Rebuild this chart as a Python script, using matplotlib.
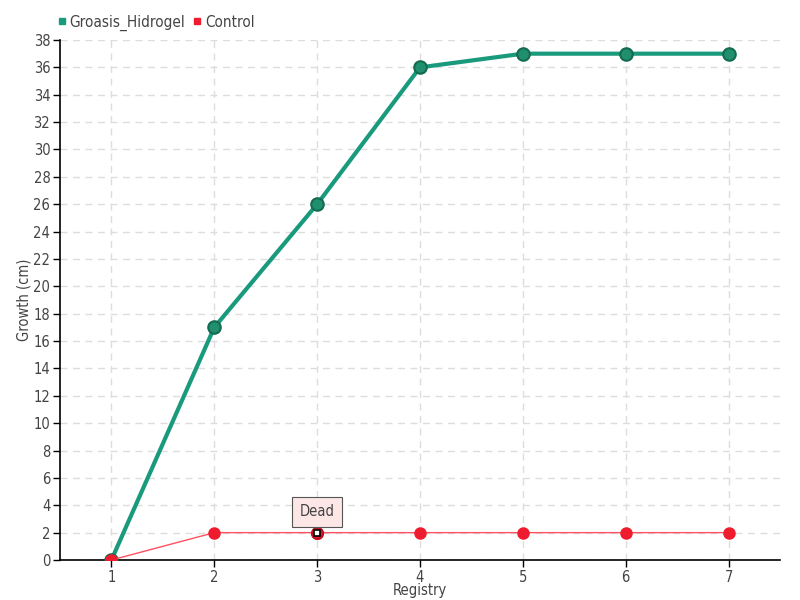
import matplotlib
matplotlib.use("Agg")
import matplotlib.pyplot as plt
from matplotlib.lines import Line2D

registry = [1, 2, 3, 4, 5, 6, 7]
groasis_hidrogel = [0, 17, 26, 36, 37, 37, 37]
control = [0, 2, 2, 2, 2, 2, 2]
y_ticks = list(range(0, 39, 2))
dead_index = 2
dead_label = "Dead"

plt.rcParams['font.family'] = ["DejaVu Sans"]
plt.rcParams['font.stretch'] = 'condensed'

green = "#1a9a7c"
green_edge = "#136b50"
red = "#ee1c2e"
text_col = "#444444"

fig = plt.figure(figsize=(8, 6), dpi=100)
ax = fig.add_axes([60/800, 40/600, 720/800, 520/600])

ax.plot(registry, groasis_hidrogel, color=green, lw=3, marker='o', ms=9,
        mfc="#1f8f6e", mec=green_edge, mew=1.5, zorder=4)
ax.plot(registry, control, color="#ff5060", lw=1, marker='o', ms=8,
        mfc=red, mec=red, zorder=5)
ax.plot([registry[dead_index]], [control[dead_index]], marker='s', ms=4,
        mfc='white', mec='black', mew=1.2, zorder=7)
ax.plot([registry[dead_index]], [control[dead_index]], marker='o', ms=8,
        mfc='none', mec="#c01020", mew=1.5, zorder=6)

ax.annotate(dead_label, xy=(registry[dead_index], control[dead_index]),
            xytext=(0, 15), textcoords='offset points', ha='center', va='center',
            fontsize=10.5, color=text_col,
            bbox=dict(boxstyle='square,pad=0.5', fc='#fde6e6', ec='#555555', lw=0.8),
            arrowprops=dict(arrowstyle='-', color='#555555', lw=0.8, shrinkA=0, shrinkB=3),
            zorder=8)

ax.set_xlim(0.5, 7.5)
ax.set_ylim(0, 38)
ax.set_xticks(registry)
ax.set_yticks(y_ticks)
ax.grid(True, color='#dddddd', ls=(0, (5, 4)), lw=1)
ax.set_axisbelow(True)
for s in ['top', 'right']:
    ax.spines[s].set_visible(False)
for s in ['left', 'bottom']:
    ax.spines[s].set_linewidth(1.2)
ax.tick_params(axis='both', labelsize=10.5, labelcolor=text_col, length=5, width=1, pad=2)
ax.set_xlabel("Registry", fontsize=10.5, color=text_col, labelpad=-1)
ax.set_ylabel("Growth (cm)", fontsize=10.5, color=text_col, labelpad=1)

handles = [Line2D([], [], ls='none', marker='s', ms=5, mfc=green, mec=green),
           Line2D([], [], ls='none', marker='s', ms=5, mfc=red, mec=red)]
fig.legend(handles, ["Groasis_Hidrogel", "Control"], loc='upper left',
           bbox_to_anchor=(42/800, 1 - 1/600), ncol=2, frameon=False,
           fontsize=11, handletextpad=0.1, columnspacing=0.4, handlelength=0.8,
           labelcolor=text_col)

fig.savefig("out.png", dpi=100)
